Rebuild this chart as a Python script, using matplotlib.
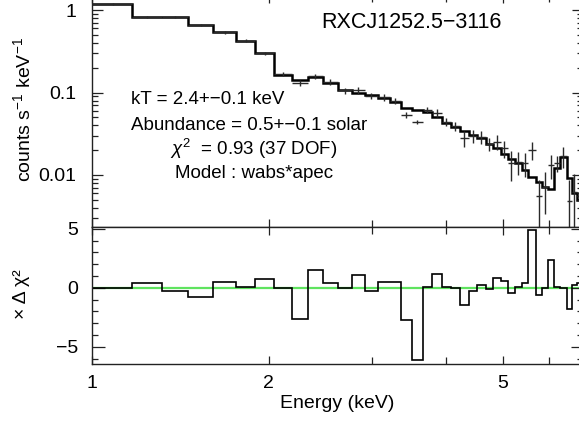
"""RXCJ1252.5-3116 X-ray spectrum with wabs*apec fit and residuals."""

import matplotlib

matplotlib.use("Agg")
import matplotlib.pyplot as plt
import numpy as np
from matplotlib.ticker import FixedLocator, FuncFormatter, NullFormatter

plt.rcParams["font.family"] = ["Liberation Sans", "DejaVu Sans"]
plt.rcParams["mathtext.fontset"] = "custom"
plt.rcParams["mathtext.rm"] = "Liberation Sans"
plt.rcParams["mathtext.it"] = "Liberation Sans:italic"

# bin edges (keV), 40 channels
bin_edges = [
    1.0, 1.17, 1.315, 1.457, 1.606, 1.758, 1.894, 2.039, 2.188, 2.33,
    2.471, 2.62, 2.768, 2.913, 3.064, 3.212, 3.354, 3.501, 3.655, 3.787,
    3.938, 4.078, 4.226, 4.377, 4.516, 4.678, 4.808, 4.961, 5.099, 5.241,
    5.387, 5.514, 5.69, 5.825, 5.964, 6.106, 6.251, 6.425, 6.551, 6.681,
    6.85,
]

# folded model, counts s^-1 keV^-1
model_rate = [
    1.2, 0.83, 0.825, 0.658, 0.541, 0.425, 0.304, 0.165, 0.142, 0.153,
    0.132, 0.107, 0.100, 0.0932, 0.0866, 0.0774, 0.0642, 0.0614, 0.0587, 0.0508,
    0.0430, 0.0385, 0.0337, 0.0306, 0.0278, 0.0238, 0.0210, 0.0180, 0.0155, 0.0140,
    0.0115, 0.0095, 0.0083, 0.0072, 0.0068, 0.0121, 0.0167, 0.0092, 0.0060, 0.0050,
]

# observed rate and 1-sigma errors
data_rate = [
    1.2, 0.83, 0.83, 0.655, 0.54, 0.425, 0.30, 0.167, 0.132, 0.157,
    0.133, 0.106, 0.107, 0.091, 0.0875, 0.079, 0.0535, 0.0443, 0.0614, 0.0568,
    0.0443, 0.0388, 0.0278, 0.0297, 0.0286, 0.0238, 0.0254, 0.0210, 0.0139, 0.0145,
    0.0140, 0.0201, 0.0055, 0.0072, 0.0132, 0.0140, 0.0170, 0.0048, 0.0062, 0.0055,
]
data_err = [
    0.034, 0.023, 0.023, 0.018, 0.023, 0.018, 0.013, 0.0095, 0.011, 0.013,
    0.011, 0.009, 0.010, 0.0078, 0.0075, 0.0068, 0.0045, 0.0025, 0.0054, 0.0058,
    0.0052, 0.0045, 0.0060, 0.0053, 0.0051, 0.0043, 0.0055, 0.0050, 0.0055, 0.0045,
    0.0045, 0.0050, 0.0033, 0.0038, 0.0043, 0.0030, 0.0050, 0.0039, 0.0040, 0.0040,
]

# sign(data-model) x delta chi^2
residual = [
    0.0, 0.45, -0.25, -0.8, 0.5, 0.1, 0.75, 0.0, -2.6, 1.5,
    0.4, 0.0, 1.1, -0.25, 0.5, 0.5, -2.7, -6.1, 0.1, 1.2,
    0.1, 0.0, -1.45, -0.25, 0.2, -0.1, 0.8, 0.6, -0.4, 0.1,
    0.4, 4.9, -0.6, 0.0, 2.35, 0.1, 0.0, -1.8, 0.2, 0.4,
]

edges = np.array(bin_edges)
centers = 0.5 * (edges[:-1] + edges[1:])
data = np.array(data_rate)
err = np.array(data_err)
err_low = np.minimum(err, data * 0.98)

W, H = 579, 423
fig = plt.figure(figsize=(W / 100, H / 100), dpi=100)

left = 92 / W
width = 491 / W
ax = fig.add_axes([left, (H - 227) / H, width, 231.7 / H])
axr = fig.add_axes([left, (H - 364) / H, width, 137 / H])

spine_color = "#222222"
for a in (ax, axr):
    for s in a.spines.values():
        s.set_color(spine_color)
        s.set_linewidth(1.0)
    a.set_xscale("log")
    a.set_xlim(1.0, 6.85)
    a.xaxis.set_major_locator(FixedLocator([1, 2, 5]))
    a.xaxis.set_minor_locator(FixedLocator([3, 4, 6]))
    a.xaxis.set_minor_formatter(NullFormatter())
    a.tick_params(which="both", direction="in", top=True, right=True,
                  color=spine_color, width=0.9, labelsize=14)
    a.tick_params(axis="x", which="major", length=6)
    a.tick_params(axis="x", which="minor", length=5)

# top panel: spectrum
ax.set_yscale("log")
ax.set_ylim(0.00234, 1.51)
ax.yaxis.set_major_locator(FixedLocator([0.01, 0.1, 1]))
ax.yaxis.set_major_formatter(FuncFormatter(lambda v, p: {0.01: "0.01", 0.1: "0.1", 1: "1"}.get(round(v, 3), "")))
ax.tick_params(axis="y", which="major", length=8, pad=11.5)
ax.tick_params(axis="y", which="minor", length=4.5)
ax.tick_params(axis="x", labelbottom=False)

ax.stairs(model_rate, edges, baseline=None, color="black", lw=1.8)
ax.errorbar(centers, data, xerr=[centers - edges[:-1], edges[1:] - centers],
            yerr=[err_low, err], fmt="none", ecolor="#2a2a2a", elinewidth=1.0,
            capsize=0)
ax.set_ylabel(r"counts s$^{-1}$ keV$^{-1}$", fontsize=14)
ax.yaxis.set_label_coords(-0.118, 0.505)

# bottom panel: residuals
axr.set_ylim(-6.45, 5.15)
axr.yaxis.set_major_locator(FixedLocator([-5, 0, 5]))
axr.yaxis.set_minor_locator(FixedLocator([-6, -4, -3, -2, -1, 1, 2, 3, 4]))
axr.yaxis.set_major_formatter(FuncFormatter(lambda v, p: f"{v:g}".replace("-", "\u2212")))
axr.tick_params(axis="y", which="major", length=9, pad=10)
axr.tick_params(axis="y", which="minor", length=4)
axr.tick_params(axis="x", pad=8)
axr.xaxis.set_major_formatter(FuncFormatter(lambda v, p: f"{v:g}"))

axr.axhline(0, color="#5fe35f", lw=1.6, zorder=1)
axr.stairs(residual, edges, baseline=None, color="black", lw=1.2, zorder=2)
axr.set_xlabel("Energy (keV)", fontsize=14, labelpad=2)
fig.text(21 / W, 1 - 294 / H, "\u00d7 \u0394 \u03c7\u00b2", rotation=90,
         ha="center", va="center", fontsize=14)

# annotations
fig.text(411 / W, 1 - 22 / H, "RXCJ1252.5\u22123116", ha="center", va="center", fontsize=15.5)
fig.text(131 / W, 1 - 100 / H, "kT = 2.4+\u22120.1 keV", ha="left", va="center", fontsize=13.5)
fig.text(131 / W, 1 - 125 / H, "Abundance = 0.5+\u22120.1 solar", ha="left", va="center", fontsize=13.5)
fig.text(170 / W, 1 - 149 / H, r"$\chi^2$  = 0.93 (37 DOF)", ha="left", va="center", fontsize=13.5)
fig.text(175 / W, 1 - 173 / H, "Model : wabs*apec", ha="left", va="center", fontsize=13.5)

fig.savefig("out.png", dpi=100)
